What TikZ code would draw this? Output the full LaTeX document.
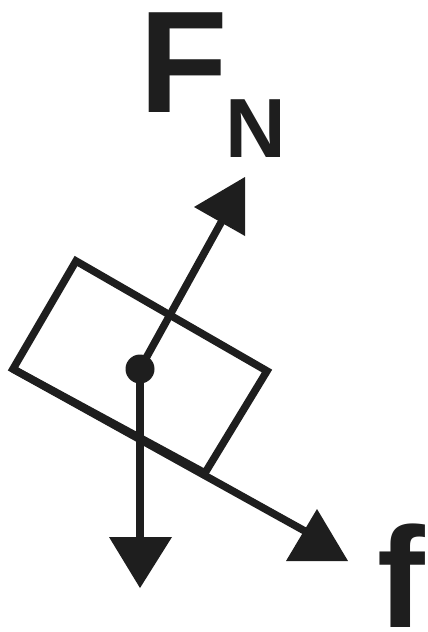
\documentclass[tikz,border=0pt]{standalone}
\usepackage{fontspec}
\setmainfont{Liberation Sans}
\definecolor{ink}{HTML}{1E1E1E}
\begin{document}
\begin{tikzpicture}[x=1pt,y=-1pt,
  stroke/.style={draw=ink,line width=7.5pt},
  head/.style={fill=ink,draw=none},
  lbl/.style={inner sep=0pt,anchor=base west,text=ink,font=\bfseries}]
\useasboundingbox (0,0) rectangle (428,632);
% box corners
\coordinate (A) at (76,261);
\coordinate (B) at (267,371);
\coordinate (C) at (205,473);
\coordinate (D) at (13,369);
\coordinate (c) at (140,369);
% arrow ends
\coordinate (nEnd) at (228,210);
\coordinate (wEnd) at (140,545);
\coordinate (fEnd) at (312,535);
% arrowheads
\coordinate (nT) at (245,177);
\coordinate (nL) at (194,207);
\coordinate (nB) at (245,236);
\coordinate (wL) at (109,537);
\coordinate (wR) at (172,537);
\coordinate (wT) at (140,588);
\coordinate (fT) at (317,509);
\coordinate (fL) at (286,561);
\coordinate (fR) at (348,561);
\draw[stroke,line join=miter] (A)--(B)--(C)--(D)--cycle;
\draw[stroke] (D)--(fEnd);
\draw[stroke] (c)--(nEnd);
\draw[stroke] (c)--(wEnd);
\fill[ink] (c) circle (14.5);
\fill[head] (nT)--(nL)--(nB)--cycle;
\fill[head] (wL)--(wR)--(wT)--cycle;
\fill[head] (fT)--(fL)--(fR)--cycle;
\node[lbl,font=\bfseries\fontsize{145}{145}\selectfont] (F) at (139,112) {F};
\node[lbl,font=\bfseries\fontsize{84}{84}\selectfont] (N) at (225,157) {N};
\node[lbl,font=\bfseries\fontsize{143}{143}\selectfont] (f) at (377,627) {f};
\end{tikzpicture}
\end{document}
